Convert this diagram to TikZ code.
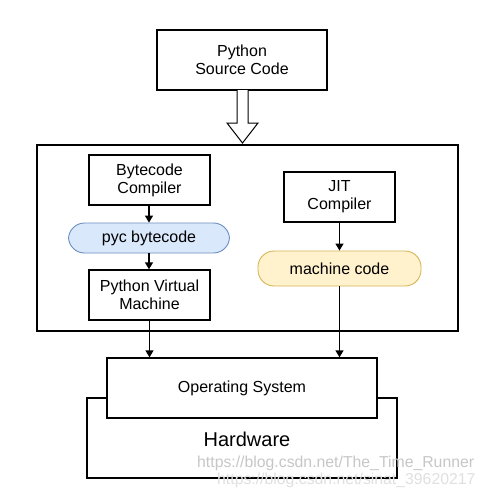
\documentclass[tikz,border=0pt]{standalone}
\usepackage{fontspec}
\setmainfont{Liberation Sans}
\usetikzlibrary{arrows.meta}
\definecolor{blueFill}{HTML}{DAE8FC}
\definecolor{blueLine}{HTML}{6C8EBF}
\definecolor{yelFill}{HTML}{FFF2CC}
\definecolor{yelLine}{HTML}{D6B656}
\tikzset{
  box/.style={draw=black, line width=1.3pt, fill=white, align=center, inner sep=0pt,
    font=\fontsize{16}{18}\selectfont},
  pill/.style={box, rounded corners=16pt},
  conn/.style={line width=1.3pt, -{Triangle[length=7pt,width=8pt]}},
  wm/.style={font=\fontsize{15.8}{18}\selectfont, text=black!22, inner sep=0pt},
}
\begin{document}
\begin{tikzpicture}[x=1pt,y=-1pt]
\useasboundingbox[fill=white] (0,0) rectangle (484,498);
% source
\node[box, minimum width=170, minimum height=60] (src) at (242,60) {Python\\Source Code};
% hollow arrow
\draw[line width=1pt, fill=white] (237,90) -- (237,123) -- (227,123) -- (242.5,143) -- (258,123) -- (248,123) -- (248,90);
% container
\node[box, minimum width=421, minimum height=186] (frame) at (247.5,238) {};
% left column
\node[box, minimum width=121, minimum height=50] (bc) at (149.5,180) {Bytecode\\Compiler};
\node[pill, fill=blueFill, draw=blueLine, line width=0.9pt, minimum width=161, minimum height=30] (pyc) at (149,238) {pyc bytecode};
\node[box, minimum width=121, minimum height=50] (pvm) at (149.5,295) {Python Virtual\\Machine};
% right column
\node[box, minimum width=111, minimum height=50] (jit) at (339.5,197) {JIT\\Compiler};
\node[pill, fill=yelFill, draw=yelLine, line width=0.9pt, minimum width=163, minimum height=35] (mc) at (339.5,268.5) {machine code};
% hardware / OS
\node[draw=black, line width=1.3pt, minimum width=310, minimum height=80, inner sep=0pt] (hw) at (242,438) {};
\node[box, minimum width=270, minimum height=60] (os) at (242,388) {Operating System};
\node[font=\fontsize{20}{22}\selectfont, inner sep=0pt] (hwl) at (247,439) {Hardware};
% connectors
\draw[conn] (bc.south -| pyc.north) -- (pyc.north);
\draw[conn] (pyc.south) -- (pyc.south |- pvm.north);
\draw[conn] (jit.south) -- (mc.north);
\draw[conn] (pvm.south) -- (pvm.south |- os.north);
\draw[conn] (mc.south) -- (mc.south |- os.north);
% watermarks
\node[wm, anchor=west] (wm1) at (197,463) {https://blog.csdn.net/The\_Time\_Runner};
\node[wm, anchor=west, text=black!12] (wm2) at (217,480) {https://blog.csdn.net/sinat\_39620217};
\end{tikzpicture}
\end{document}
